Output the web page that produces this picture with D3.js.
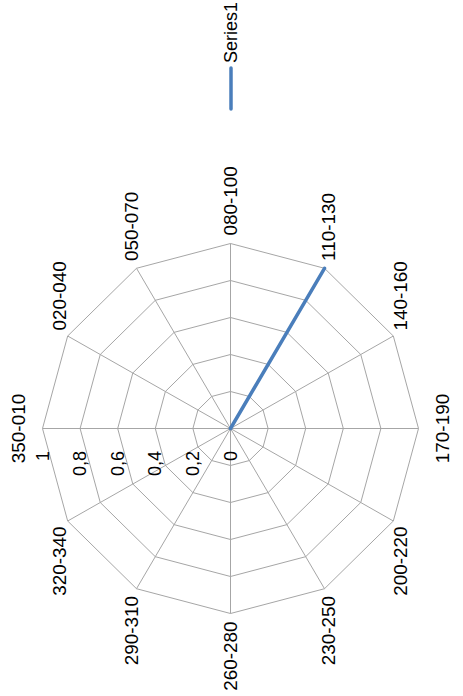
<!DOCTYPE html>
<html>
<head>
<meta charset="utf-8">
<script src="https://cdn.jsdelivr.net/npm/d3@7"></script>
<style>
  html, body { margin: 0; padding: 0; background: #fff; }
  svg { display: block; }
  text { font-family: "Liberation Sans", Arial, sans-serif; fill: #000; }
</style>
</head>
<body>
<svg id="chart" width="463" height="696"></svg>
<script>
// Direction sectors (degrees), clockwise from north
const categories = ["350-010", "020-040", "050-070", "080-100", "110-130", "140-160",
                    "170-190", "200-220", "230-250", "260-280", "290-310", "320-340"];
const seriesName = "Series1";
const series1 = [0, 0, 0, 0, 1, 0, 0, 0, 0, 0, 0, 0];
const tickValues = [0, 0.2, 0.4, 0.6, 0.8, 1];
const tickLabels = ["0", "0,2", "0,4", "0,6", "0,8", "1"];

const svg = d3.select("#chart");
const cx = 230.5, cy = 428.5;
const rX = d3.scaleLinear().domain([0, 1]).range([0, 188]);
const rY = d3.scaleLinear().domain([0, 1]).range([0, 185]);

// The whole chart is turned a quarter turn counter-clockwise: north points left.
const step = 360 / categories.length;
const theta = c => (categories.indexOf(c) * step - 90) * Math.PI / 180;
const px = (c, v) => cx + rX(v) * Math.sin(theta(c));
const py = (c, v) => cy - rY(v) * Math.cos(theta(c));

const gridColor = "#a6a6a6";
const fontSize = 18;
const g = svg.append("g");

// concentric web polygons
const ring = d3.line().curve(d3.curveLinearClosed);
g.selectAll("path.ring")
  .data(tickValues.filter(v => v > 0))
  .join("path")
  .attr("class", "ring")
  .attr("d", v => ring(categories.map(c => [px(c, v), py(c, v)])))
  .attr("fill", "none")
  .attr("stroke", gridColor)
  .attr("stroke-width", 1);

// spokes
g.selectAll("line.spoke")
  .data(categories)
  .join("line")
  .attr("class", "spoke")
  .attr("x1", cx).attr("y1", cy)
  .attr("x2", c => px(c, 1)).attr("y2", c => py(c, 1))
  .attr("stroke", gridColor)
  .attr("stroke-width", 1);

// value axis labels along the first spoke
g.selectAll("text.tick")
  .data(tickValues)
  .join("text")
  .attr("class", "tick")
  .attr("transform", v => `translate(${px(categories[0], v)},451) rotate(-90)`)
  .attr("text-anchor", "end")
  .attr("dominant-baseline", "central")
  .attr("font-size", fontSize)
  .text((v, i) => tickLabels[i]);

// category labels outside each vertex
g.selectAll("text.cat")
  .data(categories)
  .join("text")
  .attr("class", "cat")
  .attr("transform", c => {
    const t = theta(c), s = Math.sin(t), co = Math.cos(t);
    const vx = px(c, 1), vy = py(c, 1);
    if (Math.abs(co) < 0.1) return `translate(${vx + s * 24},${vy}) rotate(-90) scale(1.05,1)`;
    const gap = 3 + 5 * Math.abs(co);
    return `translate(${vx + s * 9},${co > 0 ? vy - gap : vy + gap}) rotate(-90) scale(1.05,1)`;
  })
  .attr("text-anchor", c => {
    const co = Math.cos(theta(c));
    return Math.abs(co) < 0.1 ? "middle" : (co > 0 ? "start" : "end");
  })
  .attr("dominant-baseline", "central")
  .attr("font-size", fontSize)
  .text(c => c);

// data series
const seriesLine = d3.line().curve(d3.curveLinearClosed);
g.append("path")
  .attr("d", seriesLine(categories.map((c, i) => [px(c, series1[i]), py(c, series1[i])])))
  .attr("fill", "none")
  .attr("stroke", "#4a7ebb")
  .attr("stroke-width", 3.5)
  .attr("stroke-linejoin", "round")
  .attr("stroke-linecap", "round");

// legend
const leg = svg.append("g").attr("transform", "translate(231,0)");
leg.append("line")
  .attr("x1", 0).attr("x2", 0).attr("y1", 68).attr("y2", 109)
  .attr("stroke", "#4a7ebb").attr("stroke-width", 3.5).attr("stroke-linecap", "round");
leg.append("text")
  .attr("transform", "translate(0,63) rotate(-90)")
  .attr("text-anchor", "start")
  .attr("dominant-baseline", "central")
  .attr("font-size", fontSize)
  .text(seriesName);
</script>
</body>
</html>
